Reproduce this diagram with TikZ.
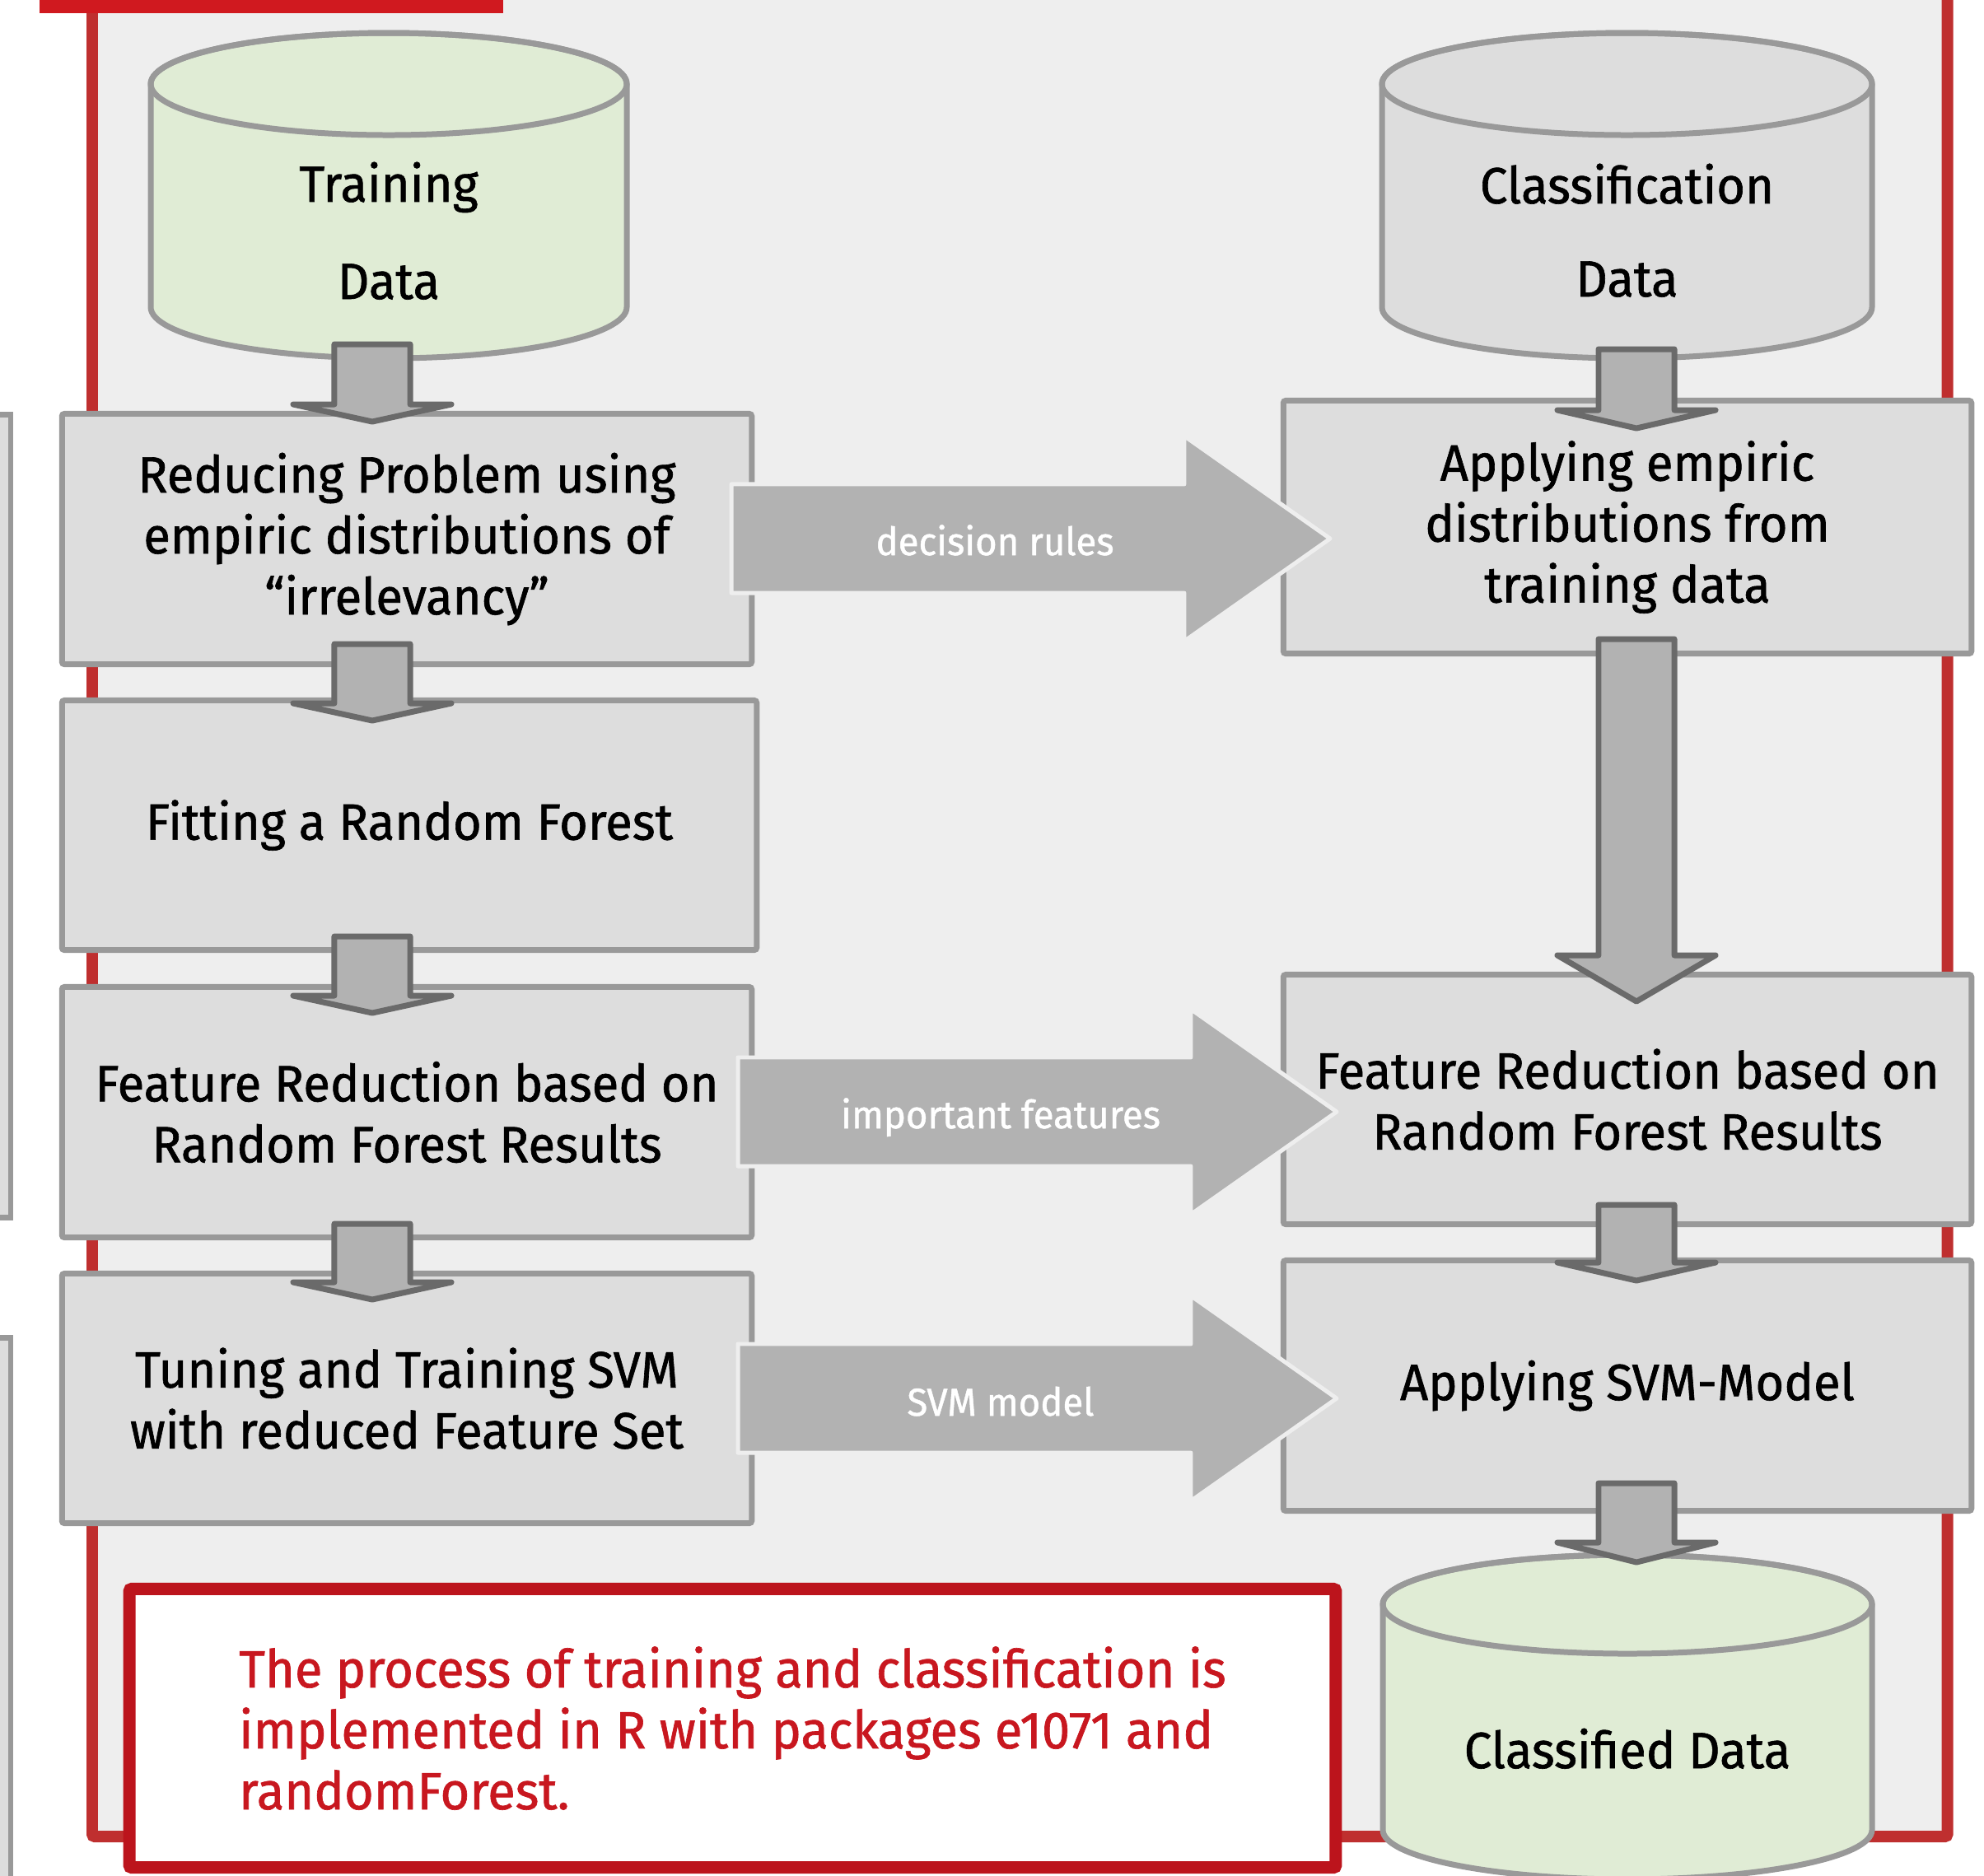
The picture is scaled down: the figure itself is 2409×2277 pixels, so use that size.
\documentclass[tikz,border=0pt]{standalone}
\usepackage{fontspec}
\setmainfont{Fira Sans}[FakeStretch=0.965, FakeBold=1.0]
\usetikzlibrary{calc}
\definecolor{bgpanel}{HTML}{EEEEEE}
\definecolor{boxfill}{HTML}{DDDDDD}
\definecolor{boxline}{HTML}{999999}
\definecolor{cylgreen}{HTML}{E0ECD5}
\definecolor{arrowfill}{HTML}{B2B2B2}
\definecolor{arrowline}{HTML}{6A6A6A}
\definecolor{framered}{HTML}{BF2F2F}
\definecolor{barred}{HTML}{D0191F}
\definecolor{notered}{HTML}{BC141C}
\definecolor{notetext}{HTML}{C8171F}
\newcommand\boxfont{\fontsize{17.6pt}{21.05pt}\selectfont}
\newcommand\notefont{\fontsize{18.1pt}{21.05pt}\selectfont}
\newcommand\labfont{\fontsize{13.4pt}{16pt}\selectfont}
\tikzset{
  boxstyle/.style={draw=boxline, fill=boxfill, line width=1.99pt, rounded corners=0.03cm,
    align=center, inner sep=0pt, font=\boxfont},
  cylstyle/.style={draw=boxline, line width=1.99pt},
  cyltext/.style={font=\boxfont, align=center, inner sep=0pt},
  varrow/.style={draw=arrowline, fill=arrowfill, line width=1.99pt, line join=round},
  harrow/.style={draw=bgpanel, fill=arrowfill, line width=1.42pt, line join=round},
  lab/.style={text=white, font=\labfont, inner sep=0pt},
  panel/.style={draw=boxline, fill=boxfill, line width=1.99pt},
}
% vertical block arrow: top point, tip point, head depth
\newcommand\vblock[3]{%
  \draw[varrow] let \p1=(#1), \p2=(#2) in
    (\x1-0.46cm,\y1) -- (\x1+0.46cm,\y1) -- (\x1+0.46cm,\y2+#3) -- (\x1+0.96cm,\y2+#3)
    -- (\x1,\y2) -- (\x1-0.96cm,\y2+#3) -- (\x1-0.46cm,\y2+#3) -- cycle;}
% horizontal block arrow: start point, tip point
\newcommand\hblock[2]{%
  \draw[harrow] let \p1=(#1), \p2=(#2) in
    (\x1,\y1+0.66cm) -- (\x2-1.77cm,\y1+0.66cm) -- (\x2-1.77cm,\y1+1.245cm) -- (\x2,\y2)
    -- (\x2-1.77cm,\y1-1.245cm) -- (\x2-1.77cm,\y1-0.66cm) -- (\x1,\y1-0.66cm) -- cycle;}
\begin{document}
\begin{tikzpicture}[x=0.01cm,y=-0.01cm]
\useasboundingbox (0,0) rectangle (2409,2277);
\clip (0,0) rectangle (2409,2277);
\fill[white] (0,0) rectangle (2409,2277);
% frame and title bar
\draw[framered, fill=bgpanel, line width=3.98pt, rounded corners=0.03cm] (112,-100) rectangle (2364.5,2230);
\fill[barred] (48,-10) rectangle (611,16);
% cut-off neighbour panels on the left
\draw[panel] (-50,503) rectangle (13,1478);
\draw[panel] (-50,1624) rectangle (13,2400);
% Training Data cylinder
\draw[cylstyle, fill=cylgreen] (183,102) -- (183,373) arc[start angle=180, end angle=0, x radius=289, y radius=62]
  -- (761,102) arc[start angle=0, end angle=-180, x radius=289, y radius=62] -- cycle;
\draw[cylstyle] (472,102) ellipse [x radius=289, y radius=62];
\node[cyltext, anchor=base] (train) at (472,363) {Training\\[0.44cm]Data};
% Classification Data cylinder
\draw[cylstyle, fill=boxfill] (1678,102) -- (1678,373) arc[start angle=180, end angle=0, x radius=297.5, y radius=62]
  -- (2273,102) arc[start angle=0, end angle=-180, x radius=297.5, y radius=62] -- cycle;
\draw[cylstyle] (1975.5,102) ellipse [x radius=297.5, y radius=62];
\node[cyltext, anchor=base] (cdata) at (1975.5,360) {Classification\\[0.39cm]Data};
% process boxes
\node[boxstyle, minimum width=8.37cm, minimum height=3.04cm] (b1) at (494,654.5)
  {Reducing Problem using\\empiric distributions of\\“irrelevancy”};
\node[boxstyle, minimum width=8.43cm, minimum height=3.03cm] (b2) at (497,1002) {Fitting a Random Forest};
\node[boxstyle, minimum width=8.37cm, minimum height=3.04cm] (b3) at (494,1350.5)
  {Feature Reduction based on\\Random Forest Results};
\node[boxstyle, minimum width=8.37cm, minimum height=3.03cm] (b4) at (494,1698)
  {Tuning and Training SVM\\with reduced Feature Set};
\node[boxstyle, minimum width=8.35cm, minimum height=3.07cm] (r1) at (1976,640)
  {Applying empiric\\distributions from\\training data};
\node[boxstyle, minimum width=8.35cm, minimum height=3.03cm] (r2) at (1976,1335)
  {Feature Reduction based on\\Random Forest Results};
\node[boxstyle, minimum width=8.35cm, minimum height=3.04cm] (r3) at (1976,1682.5) {Applying SVM-Model};
% horizontal transfer arrows
\coordinate (h1s) at (888,654);  \coordinate (h1e) at (1615,654);
\coordinate (h2s) at (896,1350); \coordinate (h2e) at (1623,1350);
\coordinate (h3s) at (896,1698); \coordinate (h3e) at (1623,1698);
\hblock{h1s}{h1e}
\hblock{h2s}{h2e}
\hblock{h3s}{h3e}
\node[lab, anchor=base] (l1) at (1208,674) {decision rules};
\node[lab, anchor=base] (l2) at (1215,1370) {important features};
\node[lab, anchor=base] (l3) at (1215,1719) {SVM model};
% Classified Data cylinder
\draw[cylstyle, fill=cylgreen] (1679,1948) -- (1679,2222) arc[start angle=180, end angle=0, x radius=297, y radius=60]
  -- (2273,1948) arc[start angle=0, end angle=-180, x radius=297, y radius=60] -- cycle;
\draw[cylstyle] (1976,1948) ellipse [x radius=297, y radius=60];
\node[cyltext, anchor=base] (cld) at (1976,2147) {Classified Data};
% note
\node[draw=notered, fill=white, line width=4.27pt, rounded corners=0.03cm, minimum width=14.64cm,
  minimum height=3.38cm, text=notetext, align=left, font=\notefont, inner sep=0pt] (note) at (889.5,2098.5)
  {The process of training and classification is\\implemented in R with packages e1071 and\\randomForest.};
% vertical flow arrows
\coordinate (a1t) at (452,418);   \coordinate (a1e) at (452,512);
\coordinate (a2t) at (452,782);   \coordinate (a2e) at (452,875);
\coordinate (a3t) at (452,1137);  \coordinate (a3e) at (452,1230);
\coordinate (a4t) at (452,1486);  \coordinate (a4e) at (452,1578);
\coordinate (a5t) at (1987,424);  \coordinate (a5e) at (1987,520);
\coordinate (a6t) at (1987,776);  \coordinate (a6e) at (1987,1216);
\coordinate (a7t) at (1987,1463); \coordinate (a7e) at (1987,1555);
\coordinate (a8t) at (1987,1801); \coordinate (a8e) at (1987,1897);
\vblock{a1t}{a1e}{0.21cm}
\vblock{a2t}{a2e}{0.21cm}
\vblock{a3t}{a3e}{0.21cm}
\vblock{a4t}{a4e}{0.21cm}
\vblock{a5t}{a5e}{0.22cm}
\vblock{a6t}{a6e}{0.56cm}
\vblock{a7t}{a7e}{0.22cm}
\vblock{a8t}{a8e}{0.24cm}
\end{tikzpicture}
\end{document}
